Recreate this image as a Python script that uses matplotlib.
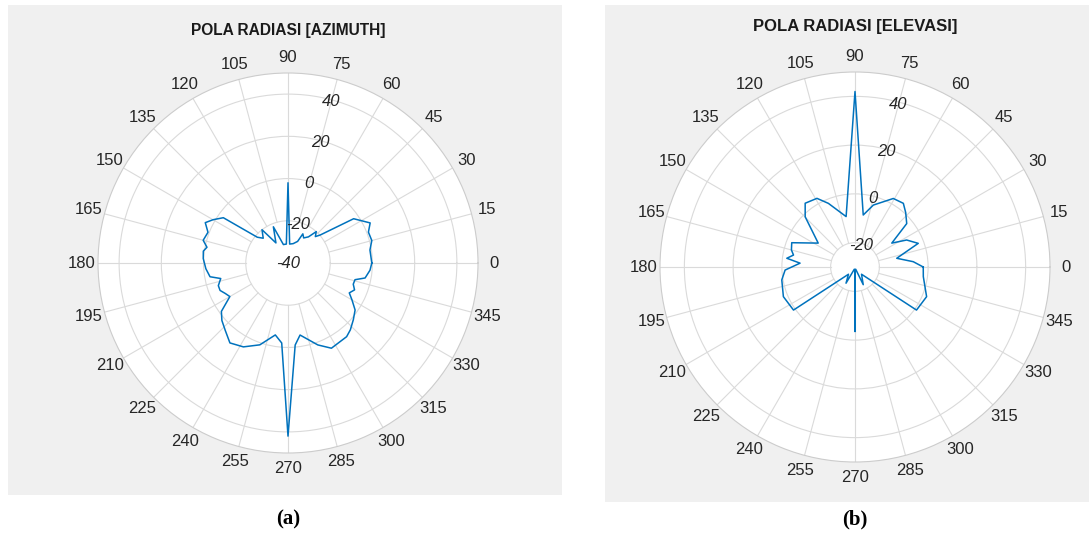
import numpy as np
import matplotlib.pyplot as plt
from matplotlib.patches import Rectangle

W, H = 1089, 533

# azimuth pattern: angle (deg) and gain (dB)
az_angle = [0, 9, 15, 21, 26, 34, 41, 44, 48, 52, 58, 63, 66, 75, 85, 90, 95, 104,
            112, 121, 128, 135, 140, 145, 150, 154, 159, 165, 169, 172, 177, 184,
            190, 193, 198, 202, 206, 210, 216, 221, 227, 234, 242, 251, 260, 265.5,
            270, 275, 279.5, 290, 297, 308.5, 313, 319, 325, 330, 334, 338, 342,
            346, 349, 355, 360]
az_gain = [-0.3, -0.7, 1.1, 0.8, 3.3, -2.5, -19.8, -22, -20, -24.3, -26, -24.5,
           -28.8, -30.5, -31, -2, -31, -31, -21.5, -28.9, -20, -23.4, -21, -2.6,
           1, 3.6, 0.6, 1.6, -0.9, 0.5, 0.2, -1, -2.5, -7.3, -5.3, -5.3, -7,
           -8.2, -1, 1.5, 3.6, 6.8, 5, 1, -5.4, -2, 42, -1, -5.4, 1.3, 5.3, 4.6,
           3.3, 1, -1.2, -5, -7.7, -6, -7.5, -7.3, -2.8, -1, -0.3]

# elevation pattern
el_angle = [0, 5.2, 11.8, 20.5, 27.6, 33, 40, 47, 52.8, 60.8, 73.5, 81, 90, 100,
            112.7, 119, 128, 134.8, 147, 159, 165, 169, 172.7, 176, 182.5, 190,
            202.5, 215, 228, 241, 252, 266, 270, 274, 288, 295, 312, 325, 337.5,
            352, 360]
el_gain = [-2, -6, -12.5, -2.3, -6.1, -12, -2.3, 0.5, 2.8, 2.2, -3.5, -8.4, 42,
           -9, -1.7, 2.2, 3.2, -1, -12, -2.2, -3, -4.3, -1.8, -7.4, -1.3, 0.5,
           1.8, 0.8, -26, -22.4, -29, -29, -3.5, -29, -29, -22, -26, 0.8, 1.8,
           -1.7, -2]

theta_ticks = list(range(0, 360, 15))
theta_labels = [str(t) for t in theta_ticks]
GRID = '#dadada'

plt.rcParams['font.family'] = ['Liberation Sans', 'DejaVu Sans']
fig = plt.figure(figsize=(W / 100, H / 100), dpi=100)
fig.patch.set_facecolor('white')


def px_box(x0, y0, x1, y1):
    return [x0 / W, 1 - y1 / H, (x1 - x0) / W, (y1 - y0) / H]


# grey figure panels behind each plot
for x0, y0, x1, y1 in [(8, 5, 562, 495), (605, 5, 1089, 502)]:
    fig.patches.append(Rectangle((x0 / W, 1 - y1 / H), (x1 - x0) / W, (y1 - y0) / H,
                                 transform=fig.transFigure, facecolor='#f0f0f0',
                                 edgecolor='none', zorder=-10))


def polar_panel(cx, cy, R, angle, gain, rlim, rticks):
    ax = fig.add_axes(px_box(cx - R, cy - R, cx + R, cy + R), projection='polar')
    ax.set_facecolor('white')
    ax.set_ylim(*rlim)
    ax.set_yticks(rticks)
    ax.set_yticklabels([])
    ax.set_thetagrids(theta_ticks, theta_labels, fontsize=12, color='#262626')
    ax.tick_params(axis='x', pad=1)
    ax.yaxis.grid(True, color=GRID, lw=0.8)
    ax.xaxis.grid(False)
    # spokes start at the first ring, leaving the centre clear
    inner = min(t for t in rticks if t > rlim[0])
    for t in theta_ticks:
        ax.plot([np.deg2rad(t)] * 2, [inner, rlim[1]], color=GRID, lw=0.8, zorder=1)
    ax.plot(np.deg2rad(angle), gain, color='#0072BD', lw=1.1, zorder=3)
    ax.set_ylim(*rlim)
    # r labels sit centred on the 75 degree ray
    for t in rticks:
        r = max(t - 1, rlim[0])
        ax.text(np.deg2rad(75), r, str(t), ha='center', va='center',
                fontsize=12, fontstyle='italic', color='#262626', zorder=4)
    ax.spines['polar'].set_color('#cccccc')
    ax.spines['polar'].set_linewidth(0.8)
    return ax


polar_panel(288, 263, 190, az_angle, az_gain, (-40, 50), [-40, -20, 0, 20, 40])
polar_panel(855, 267, 195, el_angle, el_gain, (-30, 50), [-20, 0, 20, 40])

fig.text(288 / W, 1 - 31 / H, 'POLA RADIASI [AZIMUTH]', ha='center', va='center',
         fontsize=11.2, fontweight='bold', color='#1a1a1a')
fig.text(855 / W, 1 - 27 / H, 'POLA RADIASI [ELEVASI]', ha='center', va='center',
         fontsize=12, fontweight='bold', color='#1a1a1a')

fig.text(288 / W, 1 - 519 / H, '(a)', ha='center', va='center', fontsize=15,
         fontweight='bold', family='Liberation Serif')
fig.text(855 / W, 1 - 519 / H, '(b)', ha='center', va='center', fontsize=15,
         fontweight='bold', family='Liberation Serif')

fig.savefig('out.png', dpi=100)
